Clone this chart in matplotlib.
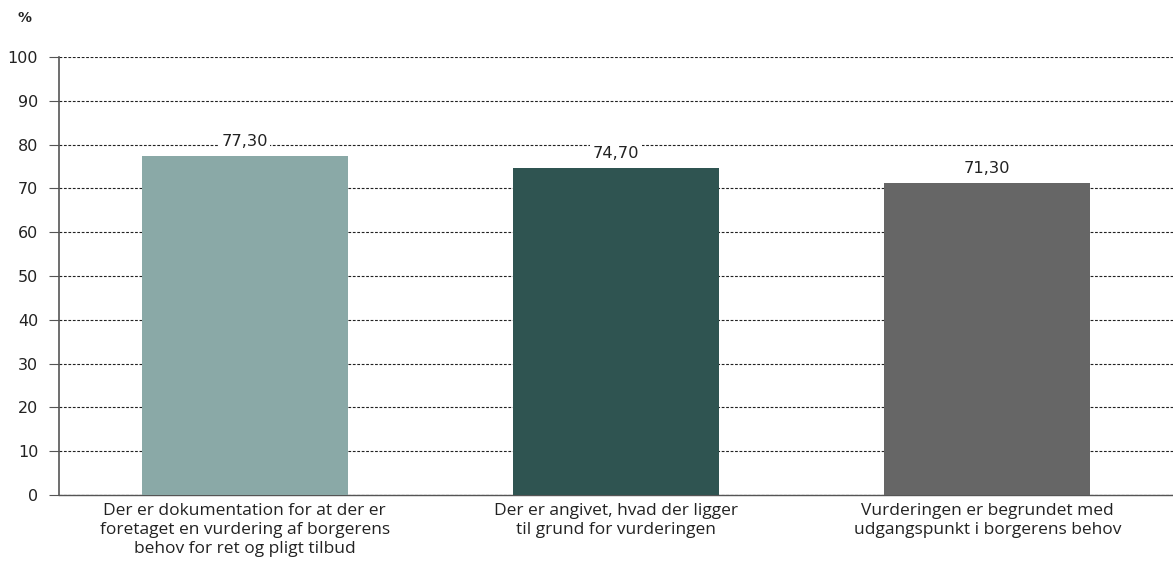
import matplotlib
matplotlib.use("Agg")
import matplotlib.pyplot as plt

categories = [
    "Der er dokumentation for at der er\nforetaget en vurdering af borgerens\nbehov for ret og pligt tilbud",
    "Der er angivet, hvad der ligger\ntil grund for vurderingen",
    "Vurderingen er begrundet med\nudgangspunkt i borgerens behov",
]
values = [77.30, 74.70, 71.30]
colors = ["#8AA9A7", "#2F5451", "#666666"]
yticks = [0, 10, 20, 30, 40, 50, 60, 70, 80, 90, 100]

fig = plt.figure(figsize=(11.73, 5.66), dpi=100)
ax = fig.add_axes([0.0503, 0.1254, 0.9497, 0.7739])

x = list(range(len(categories)))
ax.bar(x, values, width=0.555, color=colors, zorder=3)
ax.set_xlim(-0.5, 2.5)
ax.set_ylim(0, 100)
ax.set_yticks(yticks)
ax.set_yticklabels([str(t) for t in yticks], fontsize=11.5, family="DejaVu Sans", color="#222222")
ax.yaxis.grid(True, linestyle=(0, (2.5, 1.5)), color="#222222", linewidth=0.8, zorder=0)
ax.set_axisbelow(True)
ax.tick_params(axis="y", length=7, width=0.8, color="#555555", pad=8)
ax.tick_params(axis="x", length=0, pad=6)
ax.set_xticks(x)
ax.set_xticklabels(categories, fontsize=12.5, family="Open Sans", color="#222222", linespacing=1.25)

for s in ["top", "right"]:
    ax.spines[s].set_visible(False)
ax.spines["left"].set_color("#555555")
ax.spines["left"].set_linewidth(1.2)
ax.spines["bottom"].set_color("#555555")
ax.spines["bottom"].set_linewidth(1.0)

for xi, v in zip(x, values):
    ax.annotate(f"{v:.2f}".replace(".", ","), (xi, v), xytext=(0, 5), textcoords="offset points",
                ha="center", va="bottom", fontsize=11.7, family="DejaVu Sans", color="#222222",
                bbox=dict(boxstyle="square,pad=0.15", fc="white", ec="none"), zorder=4)

fig.text(17 / 1173, 1 - 18 / 566, "%", fontsize=10, fontweight="bold", family="DejaVu Sans",
         color="#222222", ha="left", va="center")

fig.savefig("out.png", dpi=100)
